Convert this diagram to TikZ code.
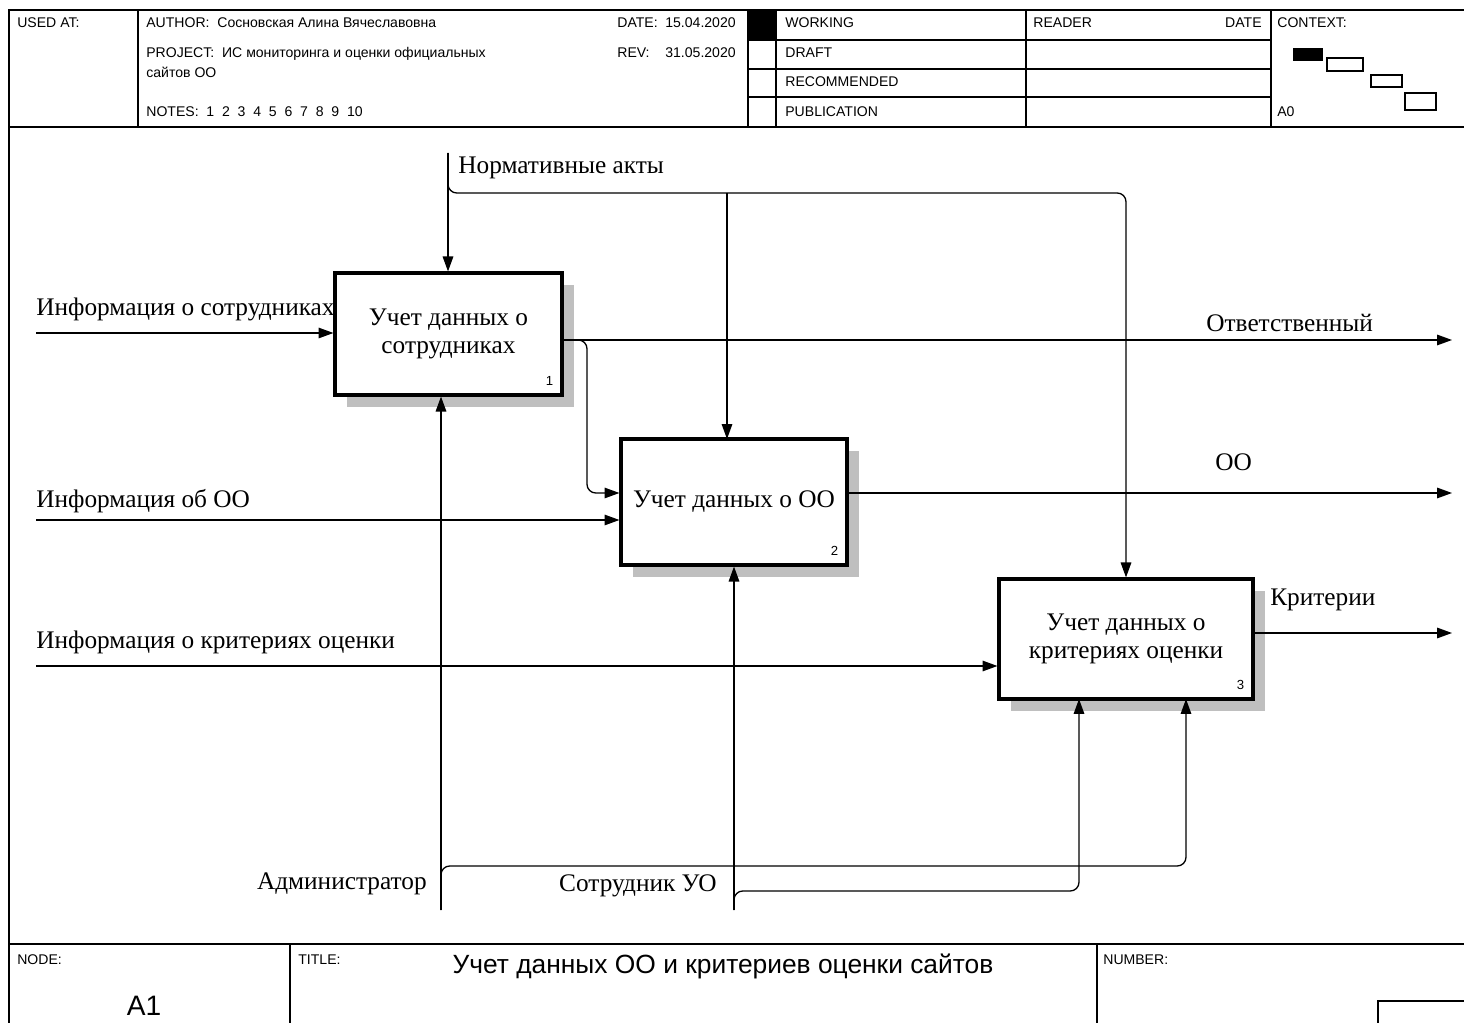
\documentclass[tikz,border=0pt]{standalone}
\usepackage{fontspec}
\setmainfont{Liberation Serif}
\newfontfamily\hdrfont{Liberation Sans}
\usetikzlibrary{arrows.meta,positioning,calc,shadows}

\begin{document}
\begin{tikzpicture}[x=0.02cm, y=-0.02cm, >={Triangle[length=8.5pt,width=6pt]},
    frame/.style={line width=0.9pt},
    box/.style={draw, line width=1.8pt, fill=white, align=center, font=\fontsize{14.4}{16}\selectfont,
        drop shadow={shadow xshift=0.24cm, shadow yshift=-0.24cm, fill=black!25, opacity=1}},
    num/.style={font=\hdrfont\fontsize{7.5}{8}\selectfont, anchor=south east, inner sep=0pt},
    lbl/.style={font=\fontsize{14.4}{16}\selectfont, anchor=base west, inner sep=0pt},
    hdr/.style={font=\hdrfont\fontsize{8}{9}\selectfont, anchor=base west, inner sep=0pt},
    arrow/.style={->, line width=0.75pt},
    elbow/.style={arrow, rounded corners=5pt},
    ctx/.style={draw, line width=0.7pt}]

    \path[use as bounding box, clip] (0,0) rectangle (1464,1023);

    % Frame
    \draw[frame] (9,1030) -- (9,10) -- (1470,10);
    \draw[frame] (9,127) -- (1470,127);
    \draw[frame] (9,944) -- (1470,944);

    % Header
    \draw[frame] (138,10) -- (138,127);
    \foreach \x in {748,776,1026,1271} \draw[frame] (\x,10) -- (\x,127);
    \foreach \y in {40,69,97} \draw[frame] (748,\y) -- (1271,\y);
    \fill (748,10) rectangle (776,40);

    \node[hdr] (usedat) at (17,28) {USED AT:};
    \node[hdr] (author) at (146,28) {AUTHOR:\ \ Сосновская Алина Вячеславовна};
    \node[hdr] (date) at (617,28) {\makebox[0.96cm][l]{DATE:}15.04.2020};
    \node[hdr] (project) at (146,58) {PROJECT:\ \ ИС мониторинга и оценки официальных};
    \node[hdr] (project2) at (146,78) {сайтов ОО};
    \node[hdr] (rev) at (617,58) {\makebox[0.96cm][l]{REV:}31.05.2020};
    \node[hdr] (notes) at (146,117) {NOTES:\ \ 1\ \ 2\ \ 3\ \ 4\ \ 5\ \ 6\ \ 7\ \ 8\ \ 9\ \ 10};

    \node[hdr] (working) at (785,28) {WORKING};
    \node[hdr] (draft) at (785,58) {DRAFT};
    \node[hdr] (recom) at (785,87) {RECOMMENDED};
    \node[hdr] (public) at (785,117) {PUBLICATION};
    \node[hdr] (reader) at (1033,28) {READER};
    \node[hdr, anchor=base east] (rdate) at (1262,28) {DATE};
    \node[hdr] (context) at (1277,28) {CONTEXT:};
    \node[hdr] (azero) at (1277,117) {A0};

    \fill (1293,48) rectangle (1323,61);
    \draw[ctx] (1327,58) rectangle (1363,71);
    \draw[ctx] (1371,75) rectangle (1402,87);
    \draw[ctx] (1405,93) rectangle (1436,110);

    % Footer
    \draw[frame] (290,944) -- (290,1030);
    \draw[frame] (1097,944) -- (1097,1030);
    \draw[frame] (1378,1030) -- (1378,1001) -- (1470,1001);
    \node[hdr] (nodelbl) at (17,964) {NODE:};
    \node[anchor=base, inner sep=0pt, font=\hdrfont\fontsize{16}{18}\selectfont] (nodeno) at (144,1015) {A1};
    \node[hdr] (titlelbl) at (298,964) {TITLE:};
    \node[anchor=base, inner sep=0pt, font=\hdrfont\fontsize{15}{18}\selectfont] (title) at (723,973) {Учет данных ОО и критериев оценки сайтов};
    \node[hdr] (numberlbl) at (1103,964) {NUMBER:};

    % Activities
    \node[box, minimum width=4.54cm, minimum height=2.44cm] (staff) at (448.5,334) {Учет данных о\\сотрудниках};
    \node[box, minimum width=4.52cm, minimum height=2.52cm] (org) at (734,502) {Учет данных о ОО};
    \node[box, minimum width=5.08cm, minimum height=2.4cm] (crit) at (1126,639) {Учет данных о\\критериях оценки};

    \node[num] (staffno) at ([xshift=-0.2cm, yshift=0.22cm]staff.south east) {1};
    \node[num] (orgno) at ([xshift=-0.2cm, yshift=0.22cm]org.south east) {2};
    \node[num] (critno) at ([xshift=-0.2cm, yshift=0.22cm]crit.south east) {3};

    % Inputs
    \coordinate (in1) at (36,333);
    \coordinate (in2) at (36,520);
    \coordinate (in3) at (36,666);
    \draw[arrow] (in1) -- (in1 -| staff.west);
    \draw[arrow] (in2) -- (in2 -| org.west);
    \draw[arrow] (in3) -- (in3 -| crit.west);

    \node[lbl] (in1lbl) at (36,316) {Информация о сотрудниках};
    \node[lbl] (in2lbl) at (36,508) {Информация об ОО};
    \node[lbl] (in3lbl) at (36,648) {Информация о критериях оценки};

    % Outputs
    \coordinate (out1) at (1452,340);
    \coordinate (out2) at (1452,493);
    \coordinate (out3) at (1452,633);
    \draw[arrow] (staff.east |- out1) -- (out1);
    \draw[elbow] (staff.east |- out1) -- (587,340) -- (587,493) -- (org.west |- out2);
    \draw[arrow] (org.east |- out2) -- (out2);
    \draw[arrow] (crit.east |- out3) -- (out3);

    \node[lbl] (out1lbl) at (1206,332) {Ответственный};
    \node[lbl] (out2lbl) at (1215,471) {ОО};
    \node[lbl] (out3lbl) at (1270,605) {Критерии};

    % Controls
    \coordinate (ctl) at (448,153);
    \coordinate (ctlbus) at (448,193);
    \draw[arrow] (ctl) -- (ctl |- staff.north);
    \draw[elbow] (ctl) -- (ctlbus) -- (crit.north |- ctlbus) -- (crit.north);
    \draw[arrow] (727,193) -- (727,439);

    \node[lbl] (ctllbl) at (458,174) {Нормативные акты};

    % Mechanisms
    \coordinate (mech1) at (441,910);
    \coordinate (mech2) at (734,910);
    \draw[arrow] (mech1) -- (mech1 |- staff.south);
    \draw[elbow] (mech1) -- (441,866) -- (1186,866) -- (1186,699);
    \draw[arrow] (mech2) -- (mech2 |- org.south);
    \draw[elbow] (mech2) -- (734,891) -- (1079,891) -- (1079,699);

    \node[lbl, anchor=base east] (mech1lbl) at (427,889) {Администратор};
    \node[lbl, anchor=base east] (mech2lbl) at (717,891) {Сотрудник УО};

\end{tikzpicture}
\end{document}
